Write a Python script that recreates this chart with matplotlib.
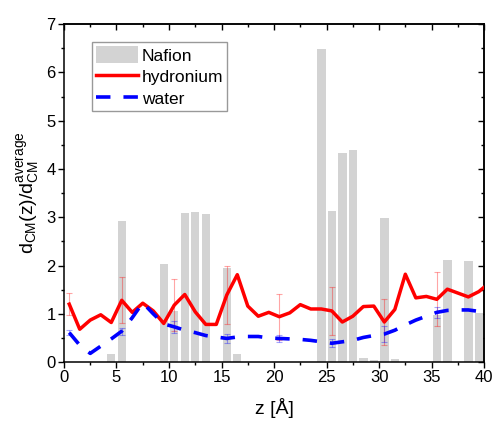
import matplotlib
matplotlib.use("Agg")
import matplotlib.pyplot as plt
import numpy as np
from matplotlib.ticker import MultipleLocator

plt.rcParams['font.family'] = ['Liberation Sans', 'DejaVu Sans']
plt.rcParams['mathtext.fontset'] = 'custom'
plt.rcParams['mathtext.rm'] = 'Liberation Sans'
plt.rcParams['mathtext.it'] = 'Liberation Sans'

# ---- data ----
nafion_z = [4.5, 5.5, 9.5, 10.5, 11.5, 12.5, 13.5, 15.5, 16.5, 24.5, 25.5, 26.5,
            27.5, 28.5, 29.5, 30.5, 31.5, 35.5, 36.5, 38.5, 39.5]
nafion_h = [0.17, 2.92, 2.04, 1.05, 3.08, 3.10, 3.06, 1.94, 0.17, 6.48, 3.13, 4.33,
            4.40, 0.08, 0.05, 2.99, 0.06, 0.97, 2.11, 2.10, 1.01]

line_z = [0.5, 1.5, 2.5, 3.5, 4.5, 5.5, 6.5, 7.5, 8.5, 9.5, 10.5, 11.5, 12.5, 13.5,
          14.5, 15.5, 16.5, 17.5, 18.5, 19.5, 20.5, 21.5, 22.5, 23.5, 24.5, 25.5,
          26.5, 27.5, 28.5, 29.5, 30.5, 31.5, 32.5, 33.5, 34.5, 35.5, 36.5, 37.5,
          38.5, 39.5, 40.5]
hydronium = [1.20, 0.68, 0.87, 0.98, 0.82, 1.28, 1.03, 1.22, 1.06, 0.80, 1.18, 1.40,
             1.04, 0.78, 0.78, 1.39, 1.81, 1.16, 0.95, 1.03, 0.94, 1.02, 1.19, 1.10,
             1.10, 1.06, 0.83, 0.95, 1.15, 1.16, 0.83, 1.09, 1.82, 1.33, 1.36, 1.30,
             1.51, 1.43, 1.35, 1.46, 1.64]
water = [0.61, 0.35, 0.18, 0.33, 0.48, 0.64, 0.92, 1.23, 1.00, 0.79, 0.73, 0.66,
         0.61, 0.55, 0.52, 0.49, 0.52, 0.53, 0.53, 0.50, 0.49, 0.48, 0.47, 0.45,
         0.42, 0.39, 0.42, 0.45, 0.51, 0.55, 0.58, 0.66, 0.77, 0.87, 0.95, 1.03,
         1.07, 1.08, 1.08, 1.05, 0.99]

err_z = [0.5, 5.5, 10.5, 15.5, 20.5, 25.5, 30.5, 35.5]
hyd_err = [0.23, 0.48, 0.54, 0.60, 0.48, 0.50, 0.48, 0.56]
water_err = [0.05, 0.07, 0.12, 0.09, 0.08, 0.08, 0.16, 0.12]

# ---- plot ----
fig = plt.figure(figsize=(4.96, 4.23), dpi=100)
ax = fig.add_axes([0.129, 0.144, 0.847, 0.799])

hb = ax.bar(nafion_z, nafion_h, width=0.8, color='#d3d3d3', edgecolor='none',
            label='Nafion', zorder=1)

idx = [line_z.index(z) for z in err_z]
hyd_at = [hydronium[i] for i in idx]
wat_at = [water[i] for i in idx]
ax.errorbar(err_z, hyd_at, yerr=hyd_err, fmt='none', ecolor=(1, 0, 0, 0.35),
            elinewidth=0.8, capsize=2.5, capthick=0.8, zorder=2)
ax.errorbar(err_z, wat_at, yerr=water_err, fmt='none', ecolor=(0, 0, 1, 0.35),
            elinewidth=0.8, capsize=2.5, capthick=0.8, zorder=2)

hl, = ax.plot(line_z, hydronium, color='#ff0000', lw=2.5, label='hydronium', zorder=3)
wl, = ax.plot(line_z, water, color='#0000ff', lw=2.6, dashes=(4, 3.6),
              label='water', zorder=3)

ax.set_xlim(0, 40)
ax.set_ylim(0, 7)
ax.xaxis.set_major_locator(MultipleLocator(5))
ax.xaxis.set_minor_locator(MultipleLocator(2.5))
ax.yaxis.set_major_locator(MultipleLocator(1))
ax.yaxis.set_minor_locator(MultipleLocator(0.5))

for s in ax.spines.values():
    s.set_linewidth(1.1)
ax.tick_params(which='both', direction='out', top=False, right=False, width=1.0,
               labelsize=12, pad=2)
ax.tick_params(which='major', length=4)
ax.tick_params(which='minor', length=2.5)

# top and right inward ticks
axt = ax.secondary_xaxis('top')
axt.xaxis.set_major_locator(MultipleLocator(5))
axt.xaxis.set_minor_locator(MultipleLocator(2.5))
axt.tick_params(which='both', direction='in', labeltop=False, width=1.0)
axt.tick_params(which='major', length=4)
axt.tick_params(which='minor', length=2.5)
axr = ax.secondary_yaxis('right')
axr.yaxis.set_major_locator(MultipleLocator(1))
axr.yaxis.set_minor_locator(MultipleLocator(0.5))
axr.tick_params(which='both', direction='in', labelright=False, width=1.0)
axr.tick_params(which='major', length=4)
axr.tick_params(which='minor', length=2.5)
for a in (axt, axr):
    for s in a.spines.values():
        s.set_linewidth(1.1)

ax.set_xlabel('z [Å]', fontsize=14, labelpad=9)
ax.set_ylabel(r'$\mathregular{d_{CM}(z)/d_{CM}^{average}}$', fontsize=14,
              labelpad=4)

leg = ax.legend([hb, hl, wl], ['Nafion', 'hydronium', 'water'],
                loc='upper left', bbox_to_anchor=(0.067, 0.947), borderaxespad=0,
                fontsize=12.5, frameon=True, fancybox=False, edgecolor='#808080',
                handlelength=2.4, handleheight=1.1, handletextpad=0.2,
                labelspacing=0.25, borderpad=0.25)
leg.get_frame().set_linewidth(1.0)

fig.savefig('out.png', dpi=100)
